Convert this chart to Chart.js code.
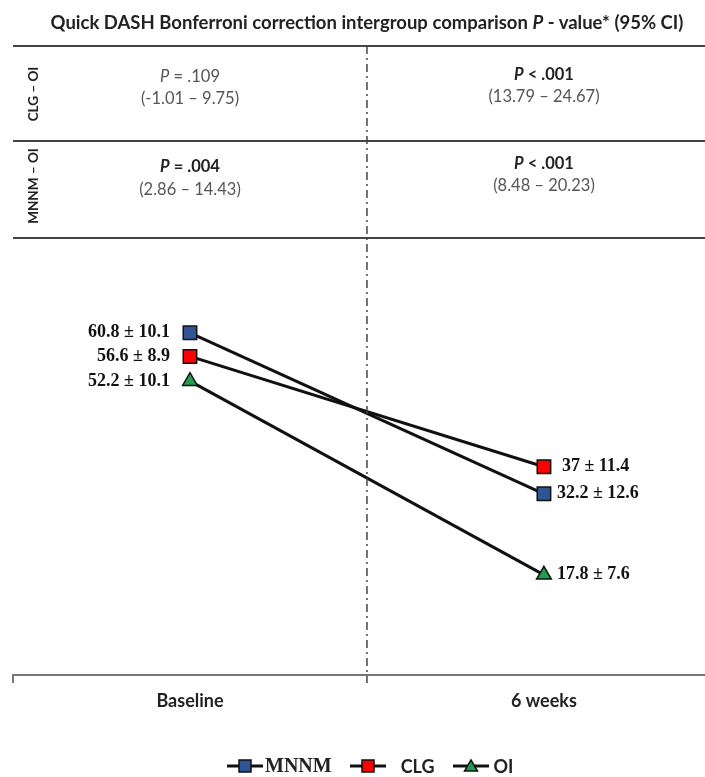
<!DOCTYPE html>
<html>
<head>
<meta charset="utf-8">
<script src="https://cdn.jsdelivr.net/npm/chart.js@4"></script>
<style>
  body { margin: 0; background: #fff; }
  #wrap { position: relative; width: 705px; height: 777px; overflow: hidden; }
  #c { position: absolute; left: 0; top: 0; }
  .t { position: absolute; transform: translate(-50%, -50%); white-space: nowrap; font-family: Lato, sans-serif; }
  .title { font-size: 18.5px; font-weight: bold; color: #222; }
  .reg { font-size: 16.5px; color: #555; }
  .bold { font-size: 16.5px; font-weight: bold; color: #222; }
  .rot { font-size: 13.5px; font-weight: bold; color: #222; transform: translate(-50%, -50%) rotate(-90deg); }
  #legend { position: absolute; top: 754px; left: 227px; display: flex; align-items: center; font-weight: bold; color: #222; }
  #legend span { display: inline-flex; align-items: center; margin-right: 18px; }
</style>
</head>
<body>
<div id="wrap">
  <canvas id="c" width="705" height="777"></canvas>

  <div class="t title" style="left:367px;top:22px">Quick DASH Bonferroni correction intergroup comparison <i>P</i> - value* (95% CI)</div>

  <div class="t rot" style="left:33px;top:94px">CLG – OI</div>
  <div class="t rot" style="left:33px;top:186px">MNNM – OI</div>

  <div class="t reg" style="left:190px;top:76px"><i>P</i> = .109</div>
  <div class="t reg" style="left:190px;top:98px">(-1.01 – 9.75)</div>
  <div class="t bold" style="left:544px;top:74px"><i>P</i> &lt; .001</div>
  <div class="t reg" style="left:544px;top:96px">(13.79 – 24.67)</div>

  <div class="t bold" style="left:190px;top:166px"><i>P</i> = .004</div>
  <div class="t reg" style="left:190px;top:189px">(2.86 – 14.43)</div>
  <div class="t bold" style="left:544px;top:163px"><i>P</i> &lt; .001</div>
  <div class="t reg" style="left:544px;top:185px">(8.48 – 20.23)</div>

  <div id="legend"></div>
</div>

<script>
const timepoints = ["Baseline", "6 weeks"];
const groups = ["MNNM", "CLG", "OI"];
const mnnmMean = [60.8, 32.2];
const mnnmSd = [10.1, 12.6];
const clgMean = [56.6, 37];
const clgSd = [8.9, 11.4];
const oiMean = [52.2, 17.8];
const oiSd = [10.1, 7.6];

const colors = ["#2f5597", "#ff0000", "#1f9e4f"];
const shapes = ["rect", "rect", "triangle"];
const means = [mnnmMean, clgMean, oiMean];
const sds = [mnnmSd, clgSd, oiSd];

//Legend in HTML so each label keeps its own font
const legendFonts = ["bold 20px 'Liberation Serif', serif", "bold 18px Lato, sans-serif", "bold 18px Lato, sans-serif"];
const legendGaps = [2, 15, 5];
const legendDiv = document.getElementById("legend");
groups.forEach((g, i) => {
  const marker = shapes[i] === "rect"
    ? `<rect x="12" y="3" width="12" height="12" fill="${colors[i]}" stroke="#111" stroke-width="1.5"/>`
    : `<polygon points="18,3 24.5,14 11.5,14" fill="${colors[i]}" stroke="#111" stroke-width="1.5"/>`;
  const item = document.createElement("span");
  item.innerHTML = `<svg width="36" height="18" style="margin-right:${legendGaps[i]}px"><line x1="0" y1="9" x2="36" y2="9" stroke="#111" stroke-width="3"/>${marker}</svg>` +
    `<span style="font:${legendFonts[i]};margin:0">${g}</span>`;
  legendDiv.appendChild(item);
});

//Table lines, dash-dot divider and value labels
const extras = {
  id: "extras",
  afterDraw(chart) {
    const ctx = chart.ctx;
    const x = chart.scales.x;
    const area = chart.chartArea;
    const mid = x.getPixelForValue(0.5);
    const left = x.getPixelForValue(-0.5);

    ctx.save();
    ctx.strokeStyle = "#444";
    ctx.lineWidth = 2;
    [46, 141, 238].forEach(y => {
      ctx.beginPath();
      ctx.moveTo(13, y);
      ctx.lineTo(705, y);
      ctx.stroke();
    });

    ctx.strokeStyle = "#777";
    ctx.beginPath();
    ctx.moveTo(left, area.bottom);
    ctx.lineTo(left, area.bottom + 8);
    ctx.stroke();

    ctx.strokeStyle = "#444";
    ctx.lineWidth = 1.5;
    ctx.setLineDash([8, 4, 2, 4]);
    ctx.beginPath();
    ctx.moveTo(mid, 46);
    ctx.lineTo(mid, area.bottom + 8);
    ctx.stroke();
    ctx.setLineDash([]);

    ctx.font = "bold 18px 'Liberation Serif'";
    ctx.fillStyle = "#111";
    ctx.textBaseline = "middle";
    chart.data.datasets.forEach((ds, di) => {
      const meta = chart.getDatasetMeta(di);
      meta.data.forEach((pt, i) => {
        const txt = `${means[di][i]} ± ${sds[di][i]}`;
        if (i === 0) {
          ctx.textAlign = "right";
          ctx.fillText(txt, pt.x - 20, pt.y);
        } else {
          ctx.textAlign = "left";
          ctx.fillText(txt, pt.x + (di === 1 ? 18 : 13), pt.y);
        }
      });
    });
    ctx.restore();
  }
};

new Chart(document.getElementById("c"), {
  type: "line",
  data: {
    datasets: groups.map((g, i) => ({
      label: g,
      data: means[i].map((v, k) => ({ x: k, y: v })),
      borderColor: "#111",
      borderWidth: 3,
      backgroundColor: colors[i],
      pointBackgroundColor: colors[i],
      pointBorderColor: "#111",
      pointBorderWidth: 1.5,
      pointStyle: shapes[i],
      pointRadius: shapes[i] === "rect" ? 9.5 : 8.5
    }))
  },
  options: {
    responsive: false,
    animation: false,
    layout: { autoPadding: false, padding: { top: 281, left: 13, right: 0, bottom: 0 } },
    plugins: { legend: { display: false }, tooltip: { enabled: false } },
    scales: {
      x: {
        type: "linear",
        min: -0.5,
        max: 1.455,
        afterBuildTicks: scale => { scale.ticks = [{ value: 0 }, { value: 1 }]; },
        afterFit: scale => {
          scale.height = 102;
          scale.paddingLeft = 0;
          scale.paddingRight = 0;
        },
        grid: { display: false },
        border: { display: true, color: "#777", width: 2 },
        ticks: {
          padding: 7,
          color: "#222",
          font: { family: "Lato", size: 18, weight: "bold" },
          callback: v => timepoints[v]
        }
      },
      y: {
        display: false,
        min: 0,
        max: 70
      }
    }
  },
  plugins: [extras]
});
</script>
</body>
</html>
